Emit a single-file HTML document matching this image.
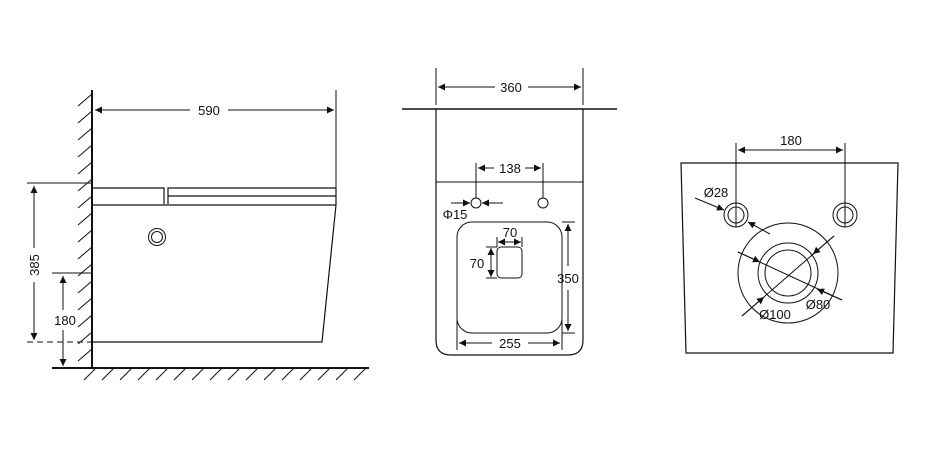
<!DOCTYPE html>
<html><head><style>body{margin:0;background:#fff}svg{display:block}text{font-family:"Liberation Sans",sans-serif;font-size:13px;fill:#111;stroke:none}</style></head>
<body>
<svg width="929" height="451" viewBox="0 0 929 451" xmlns="http://www.w3.org/2000/svg" stroke="#111" fill="none" stroke-width="1">
<defs>
<marker id="a" viewBox="0 0 10 10" refX="10" refY="5" markerWidth="9" markerHeight="7" orient="auto-start-reverse" markerUnits="userSpaceOnUse"><path d="M0,0L10,5L0,10z" fill="#111" stroke="none"/></marker>
</defs>
<!-- SIDE VIEW -->
<line x1="92" y1="90" x2="92" y2="368" stroke-width="2"/>
<line x1="52" y1="368" x2="369" y2="368" stroke-width="2"/>
<g stroke-width="1">
<path d="M92,94l-14,12M92,111l-14,12M92,128l-14,12M92,145l-14,12M92,162l-14,12M92,179l-14,12M92,196l-14,12M92,213l-14,12M92,230l-14,12M92,247l-14,12M92,264l-14,12M92,281l-14,12M92,298l-14,12M92,315l-14,12M92,332l-14,12M92,349l-14,12"/>
<path d="M96,368l-12,12M114,368l-12,12M132,368l-12,12M150,368l-12,12M168,368l-12,12M186,368l-12,12M204,368l-12,12M222,368l-12,12M240,368l-12,12M258,368l-12,12M276,368l-12,12M294,368l-12,12M312,368l-12,12M330,368l-12,12M348,368l-12,12M366,368l-12,12"/>
</g>
<line x1="336" y1="90" x2="336" y2="188"/>
<line x1="95" y1="110" x2="190" y2="110" marker-start="url(#a)"/>
<line x1="228" y1="110" x2="334" y2="110" marker-end="url(#a)"/>
<text x="209" y="115" text-anchor="middle">590</text>
<path d="M92,188H164V204M168,204V188H336V205M92,205H336M168,196H336" stroke-width="1.2"/>
<path d="M336,205L322,342H92" stroke-width="1.2"/>
<line x1="27" y1="183" x2="92" y2="183"/>
<line x1="27" y1="342" x2="92" y2="342" stroke-dasharray="6,4"/>
<circle cx="157" cy="237" r="8.5"/><circle cx="157" cy="237" r="5.5"/>
<line x1="34" y1="186" x2="34" y2="248" marker-start="url(#a)"/>
<line x1="34" y1="282" x2="34" y2="340" marker-end="url(#a)"/>
<text transform="translate(39,265) rotate(-90)" text-anchor="middle">385</text>
<line x1="52" y1="273" x2="92" y2="273"/>
<line x1="63" y1="276" x2="63" y2="310" marker-start="url(#a)"/>
<line x1="63" y1="330" x2="63" y2="366" marker-end="url(#a)"/>
<text x="65" y="325" text-anchor="middle">180</text>
<!-- FRONT VIEW -->
<line x1="436" y1="68" x2="436" y2="105"/><line x1="583" y1="68" x2="583" y2="105"/>
<line x1="438" y1="87" x2="495" y2="87" marker-start="url(#a)"/>
<line x1="528" y1="87" x2="581" y2="87" marker-end="url(#a)"/>
<text x="511" y="92" text-anchor="middle">360</text>
<line x1="402" y1="109" x2="617" y2="109" stroke-width="1.5"/>
<path d="M436,109V340Q436,355 451,355H568Q583,355 583,340V109" stroke-width="1.2"/>
<line x1="436" y1="182" x2="583" y2="182"/>
<line x1="476" y1="163" x2="476" y2="198"/><line x1="543" y1="163" x2="543" y2="198"/>
<line x1="478" y1="168" x2="494" y2="168" marker-start="url(#a)"/>
<line x1="525" y1="168" x2="541" y2="168" marker-end="url(#a)"/>
<text x="510" y="173" text-anchor="middle">138</text>
<circle cx="476" cy="203" r="5"/><circle cx="543" cy="203" r="5"/>
<line x1="451" y1="203" x2="470" y2="203" marker-end="url(#a)"/>
<line x1="503" y1="203" x2="482" y2="203" marker-end="url(#a)"/>
<text x="455" y="219" text-anchor="middle">Φ15</text>
<rect x="457" y="222" width="105" height="111" rx="15"/>
<rect x="497" y="247" width="25" height="31" rx="4"/>
<line x1="497" y1="237" x2="497" y2="247"/><line x1="522" y1="237" x2="522" y2="247"/>
<line x1="498" y1="242" x2="521" y2="242" marker-start="url(#a)" marker-end="url(#a)"/>
<text x="510" y="237" text-anchor="middle">70</text>
<line x1="486" y1="247" x2="497" y2="247"/><line x1="486" y1="278" x2="497" y2="278"/>
<line x1="491" y1="248" x2="491" y2="277" marker-start="url(#a)" marker-end="url(#a)"/>
<text x="477" y="268" text-anchor="middle">70</text>
<line x1="562" y1="222" x2="575" y2="222"/><line x1="562" y1="333" x2="575" y2="333"/>
<line x1="568" y1="224" x2="568" y2="266" marker-start="url(#a)"/>
<line x1="568" y1="290" x2="568" y2="331" marker-end="url(#a)"/>
<text x="568" y="283" text-anchor="middle">350</text>
<line x1="457" y1="320" x2="457" y2="350"/><line x1="562" y1="320" x2="562" y2="350"/>
<line x1="459" y1="343" x2="492" y2="343" marker-start="url(#a)"/>
<line x1="528" y1="343" x2="560" y2="343" marker-end="url(#a)"/>
<text x="510" y="348" text-anchor="middle">255</text>
<!-- BACK VIEW -->
<path d="M681,163H898L893,353H686Z" stroke-width="1.2"/>
<line x1="736" y1="143" x2="736" y2="227"/><line x1="845" y1="143" x2="845" y2="227"/>
<line x1="738" y1="150" x2="843" y2="150" marker-start="url(#a)" marker-end="url(#a)"/>
<text x="791" y="145" text-anchor="middle">180</text>
<circle cx="736" cy="215" r="12"/><circle cx="736" cy="215" r="8"/>
<circle cx="845" cy="215" r="12"/><circle cx="845" cy="215" r="8"/>
<line x1="695" y1="198" x2="724" y2="210" marker-end="url(#a)"/>
<line x1="770" y1="234" x2="748" y2="222" marker-end="url(#a)"/>
<text x="716" y="197" text-anchor="middle">Ø28</text>
<circle cx="788" cy="273" r="50"/><circle cx="788" cy="273" r="30"/><circle cx="788" cy="273" r="23"/>
<line x1="738" y1="252" x2="842" y2="300"/>
<line x1="738" y1="252" x2="760" y2="262" marker-end="url(#a)"/>
<line x1="842" y1="300" x2="817" y2="289" marker-end="url(#a)"/>
<line x1="834" y1="236" x2="742" y2="316"/>
<line x1="834" y1="236" x2="813" y2="254" marker-end="url(#a)"/>
<line x1="742" y1="316" x2="764" y2="297" marker-end="url(#a)"/>
<text x="818" y="309" text-anchor="middle">Ø80</text>
<text x="775" y="319" text-anchor="middle">Ø100</text>
</svg>
</body></html>
